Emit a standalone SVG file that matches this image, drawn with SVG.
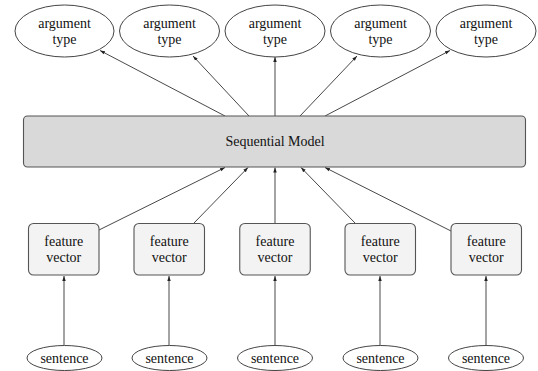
<svg xmlns="http://www.w3.org/2000/svg" width="538" height="371" viewBox="0 0 538 371" font-family="Liberation Serif, DejaVu Serif, serif">
<defs>
<marker id="arr" viewBox="0 0 10 10" refX="10" refY="5" markerWidth="5" markerHeight="5" orient="auto" markerUnits="userSpaceOnUse">
<path d="M0,1.5 L10,5 L0,8.5 Z" fill="#222"/>
</marker>
<style>
text{font-size:14px;fill:#111;text-anchor:middle}
.ell{fill:#fff;stroke:#444;stroke-width:1}
.fv{fill:#f3f3f3;stroke:#555;stroke-width:1.1}
.seq{fill:#d9d9d9;stroke:#555;stroke-width:1.1}
.edge{stroke:#333;stroke-width:0.9;fill:none;marker-end:url(#arr)}
</style>
</defs>
<rect width="538" height="371" fill="#fff"/>
<g id="connectors">
<line class="edge" x1="64" y1="346" x2="64" y2="276"/>
<line class="edge" x1="169" y1="346" x2="169" y2="276"/>
<line class="edge" x1="275" y1="346" x2="275" y2="276"/>
<line class="edge" x1="380" y1="346" x2="380" y2="276"/>
<line class="edge" x1="486" y1="346" x2="486" y2="276"/>
<line class="edge" x1="99" y1="230" x2="225" y2="167.5"/>
<line class="edge" x1="194" y1="223" x2="248" y2="167.5"/>
<line class="edge" x1="275" y1="223" x2="275" y2="167.5"/>
<line class="edge" x1="355" y1="223" x2="301" y2="167.5"/>
<line class="edge" x1="451" y1="231" x2="325" y2="167.5"/>
<line class="edge" x1="225" y1="116" x2="100" y2="50.5"/>
<line class="edge" x1="249" y1="116" x2="193" y2="56"/>
<line class="edge" x1="275" y1="116" x2="275" y2="57"/>
<line class="edge" x1="300" y1="116" x2="357" y2="56"/>
<line class="edge" x1="325" y1="116" x2="450" y2="50.5"/>
</g>
<g id="arg1"><ellipse class="ell" cx="64.5" cy="31" rx="49.5" ry="26"/><text x="64.5" y="28">argument</text><text x="64.5" y="44">type</text></g>
<g id="arg2"><ellipse class="ell" cx="169.5" cy="31" rx="50" ry="26"/><text x="169.5" y="28">argument</text><text x="169.5" y="44">type</text></g>
<g id="arg3"><ellipse class="ell" cx="275" cy="31" rx="50" ry="26"/><text x="275" y="28">argument</text><text x="275" y="44">type</text></g>
<g id="arg4"><ellipse class="ell" cx="380.5" cy="31" rx="50" ry="26"/><text x="380.5" y="28">argument</text><text x="380.5" y="44">type</text></g>
<g id="arg5"><ellipse class="ell" cx="486" cy="31" rx="50" ry="26"/><text x="486" y="28">argument</text><text x="486" y="44">type</text></g>
<g id="seq"><rect class="seq" x="23.5" y="116" width="502" height="51" rx="4"/><text x="275" y="146">Sequential Model</text></g>
<g id="fv1"><rect class="fv" x="28.5" y="223.5" width="70.5" height="51.5" rx="5"/><text x="63.75" y="246">feature</text><text x="63.75" y="262">vector</text></g>
<g id="fv2"><rect class="fv" x="134" y="223.5" width="70.5" height="51.5" rx="5"/><text x="169.25" y="246">feature</text><text x="169.25" y="262">vector</text></g>
<g id="fv3"><rect class="fv" x="239.75" y="223.5" width="70.5" height="51.5" rx="5"/><text x="275" y="246">feature</text><text x="275" y="262">vector</text></g>
<g id="fv4"><rect class="fv" x="345" y="223.5" width="70.5" height="51.5" rx="5"/><text x="380.25" y="246">feature</text><text x="380.25" y="262">vector</text></g>
<g id="fv5"><rect class="fv" x="451" y="223.5" width="70.5" height="51.5" rx="5"/><text x="486.25" y="246">feature</text><text x="486.25" y="262">vector</text></g>
<g id="s1"><ellipse class="ell" cx="64.5" cy="358" rx="37.5" ry="12.5"/><text x="64.5" y="362.5">sentence</text></g>
<g id="s2"><ellipse class="ell" cx="169.5" cy="358" rx="37.5" ry="12.5"/><text x="169.5" y="362.5">sentence</text></g>
<g id="s3"><ellipse class="ell" cx="275" cy="358" rx="37.5" ry="12.5"/><text x="275" y="362.5">sentence</text></g>
<g id="s4"><ellipse class="ell" cx="380.5" cy="358" rx="37.5" ry="12.5"/><text x="380.5" y="362.5">sentence</text></g>
<g id="s5"><ellipse class="ell" cx="486" cy="358" rx="37.5" ry="12.5"/><text x="486" y="362.5">sentence</text></g>
</svg>
